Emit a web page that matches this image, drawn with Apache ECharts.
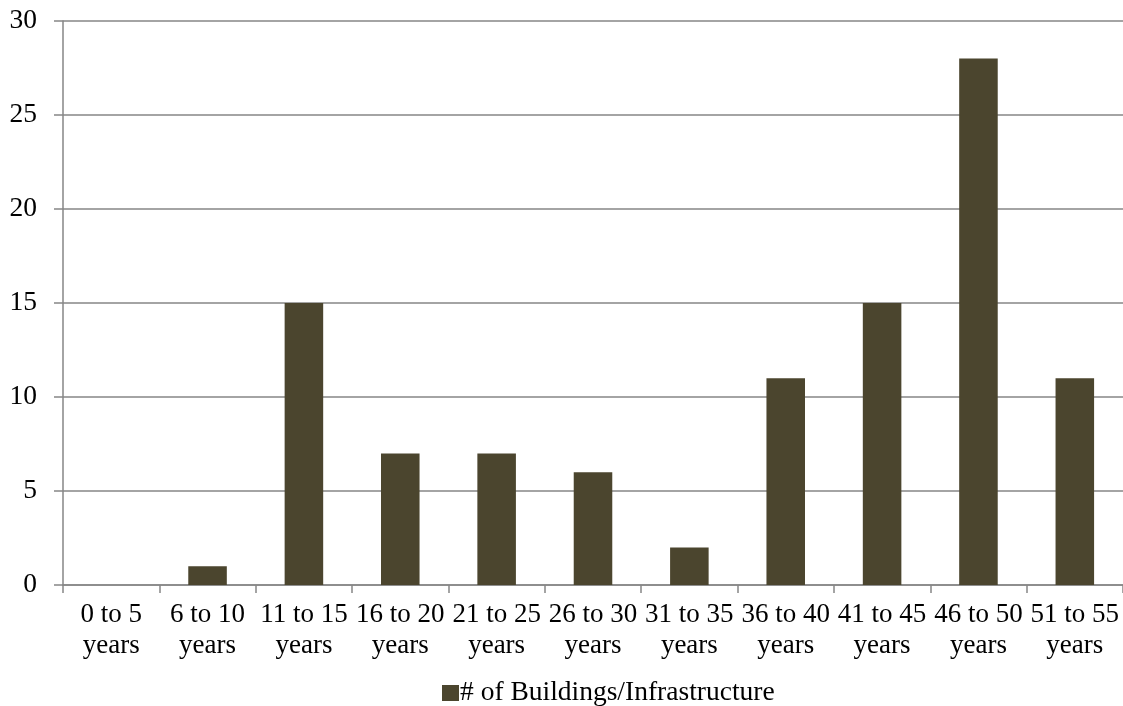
<!DOCTYPE html>
<html>
<head>
<meta charset="utf-8">
<script src="https://cdn.jsdelivr.net/npm/echarts@6/dist/echarts.min.js"></script>
<style>
  html, body { margin: 0; padding: 0; background: #ffffff; }
  #chart { width: 1123px; height: 706px; }
</style>
</head>
<body>
<div id="chart"></div>
<script>
// Age bands of buildings / infrastructure
const categories = [
  '0 to 5\nyears', '6 to 10\nyears', '11 to 15\nyears', '16 to 20\nyears',
  '21 to 25\nyears', '26 to 30\nyears', '31 to 35\nyears', '36 to 40\nyears',
  '41 to 45\nyears', '46 to 50\nyears', '51 to 55\nyears'
];
const buildingCounts = [0, 1, 15, 7, 7, 6, 2, 11, 15, 28, 11];
const seriesName = '# of Buildings/Infrastructure';

const FONT = '"Liberation Serif", "Times New Roman", serif';
const AXIS_GRAY = '#868686';
const BAR_COLOR = '#4B452E';

const chart = echarts.init(document.getElementById('chart'));
chart.setOption({
  animation: false,
  backgroundColor: '#ffffff',
  textStyle: { fontFamily: FONT },
  grid: { left: 63, top: 21, width: 1064, height: 564, containLabel: false },
  legend: {
    data: [seriesName],
    left: 437,
    top: 674,
    icon: 'rect',
    itemWidth: 17,
    itemHeight: 16,
    itemGap: 5,
    textStyle: { fontFamily: FONT, fontSize: 27.5, color: '#000000', padding: [0, 0, 0, -4] }
  },
  xAxis: {
    type: 'category',
    data: categories,
    axisLine: { lineStyle: { color: AXIS_GRAY, width: 1.5 } },
    axisTick: { show: true, length: 8, alignWithLabel: false, lineStyle: { color: AXIS_GRAY, width: 1.5 } },
    axisLabel: {
      interval: 0,
      margin: 14,
      color: '#000000',
      fontFamily: FONT,
      fontSize: 27,
      lineHeight: 31
    }
  },
  yAxis: {
    type: 'value',
    min: 0,
    max: 30,
    interval: 5,
    axisLine: { show: true, lineStyle: { color: AXIS_GRAY, width: 1.5 } },
    axisTick: { show: true, length: 9, lineStyle: { color: AXIS_GRAY, width: 1.5 } },
    splitLine: { show: true, lineStyle: { color: AXIS_GRAY, width: 1.5 } },
    axisLabel: {
      margin: 26,
      color: '#000000',
      fontFamily: FONT,
      fontSize: 27.5
    }
  },
  series: [{
    name: seriesName,
    type: 'bar',
    data: buildingCounts,
    barWidth: '40%',
    itemStyle: { color: BAR_COLOR }
  }]
});
</script>
</body>
</html>
